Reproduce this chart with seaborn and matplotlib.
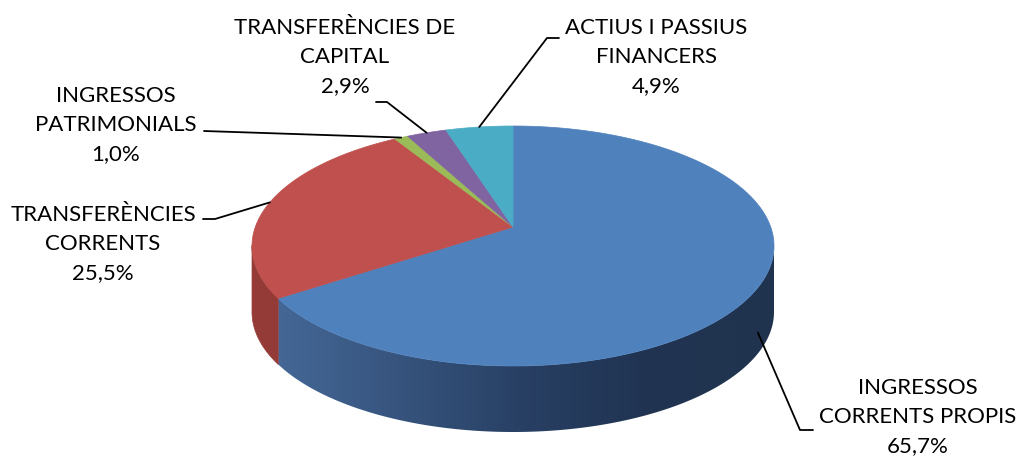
import numpy as np
import matplotlib
matplotlib.use("Agg")
import matplotlib.pyplot as plt
from matplotlib.patches import Polygon
import seaborn as sns

# ---- data ----
categories = ["INGRESSOS\nCORRENTS PROPIS", "TRANSFERÈNCIES\nCORRENTS", "INGRESSOS\nPATRIMONIALS",
              "TRANSFERÈNCIES DE\nCAPITAL", "ACTIUS I PASSIUS\nFINANCERS"]
values = [65.7, 25.5, 1.0, 2.9, 4.9]
pct_labels = ["65,7%", "25,5%", "1,0%", "2,9%", "4,9%"]
hex_colors = ["#4F81BD", "#C0504D", "#9BBB59", "#8064A2", "#4BACC6"]

sns.set_theme(style="white")
plt.rcParams['font.family'] = ['Lato', 'DejaVu Sans']
colors = sns.color_palette(hex_colors)

W, H = 1021, 459
fig = plt.figure(figsize=(W / 100, H / 100), dpi=100)
ax = fig.add_axes([0, 0, 1, 1])
ax.set_xlim(0, W)
ax.set_ylim(H, 0)
ax.axis("off")

# geometry (layout)
cx, cy = 513.0, 246.0      # top ellipse centre
px, py = 513.0, 227.0      # pivot (perspective)
a, b = 261.0, 120.0
depth = 66.0

def boundary(phi_deg):
    phi = np.radians(phi_deg)
    dx, dy = a * np.cos(phi), -b * np.sin(phi)
    ux, uy = px - cx, py - cy
    A = (dx / a) ** 2 + (dy / b) ** 2
    B = 2 * (ux * dx / a ** 2 + uy * dy / b ** 2)
    C = (ux / a) ** 2 + (uy / b) ** 2 - 1
    s = (-B + np.sqrt(B * B - 4 * A * C)) / (2 * A)
    return px + s * dx, py + s * dy

total = sum(values)
angles = [90.0]
for v in values:
    angles.append(angles[-1] - v / total * 360.0)

side_cols = [None, (0.58, 0.23, 0.22), (0.45, 0.55, 0.26), (0.38, 0.30, 0.49), (0.23, 0.51, 0.59)]

# side walls
for i, v in enumerate(values):
    phis = np.linspace(angles[i], angles[i + 1], 800)
    pts = np.array([boundary(p) for p in phis])
    front = pts[pts[:, 1] >= cy - 0.5]
    if len(front) < 2:
        continue
    poly = np.vstack([front, front[::-1] + [0, depth]])
    if i == 0:
        patch = Polygon(poly, closed=True, facecolor="none", edgecolor="none")
        ax.add_patch(patch)
        xs = [260, 300, 520, 650, 780]
        cs = np.array([[70, 105, 152], [66, 100, 146], [40, 64, 100], [32, 51, 81], [33, 51, 78]]) / 255
        gx = np.linspace(250, 780, 600)
        grad = np.stack([np.interp(gx, xs, cs[:, k]) for k in range(3)], axis=-1)[None, :, :]
        im = ax.imshow(grad, extent=(250, 780, cy + b + depth + 5, cy - 5), aspect="auto",
                       interpolation="bilinear", zorder=1)
        im.set_clip_path(patch)
    else:
        ax.add_patch(Polygon(poly, closed=True, facecolor=side_cols[i], edgecolor=side_cols[i],
                             lw=0.5, zorder=1))

# top faces
for i, v in enumerate(values):
    phis = np.linspace(angles[i], angles[i + 1], 400)
    pts = [boundary(p) for p in phis]
    poly = [(px, py)] + pts
    ax.add_patch(Polygon(poly, closed=True, facecolor=colors[i], edgecolor=colors[i], lw=0.5, zorder=2))

ax.set_xlim(0, W)
ax.set_ylim(H, 0)

# labels
label_pos = [(918, 417), (103, 244), (116, 125), (345, 57), (656, 57)]
for i in range(len(values)):
    x, y = label_pos[i]
    ax.text(x, y, categories[i] + "\n" + pct_labels[i], ha="center", va="center",
            fontsize=16, color="black", linespacing=1.55, zorder=3)

# leader lines
mids = [(angles[i] + angles[i + 1]) / 2 for i in range(len(values))]
def anchor(i, drop=0.0):
    x, y = boundary(mids[i])
    return x, y + drop

lines = [
    [(813, 430), (800, 430), anchor(0, 45)],
    [(203, 219), (215, 219), anchor(1)],
    [(204, 131), anchor(2)],
    [(376, 102), (387, 102), anchor(3)],
    [(559, 38), (547, 38), anchor(4)],
]
for ln in lines:
    xs_, ys_ = zip(*ln)
    ax.plot(xs_, ys_, color="black", lw=1.3, zorder=3)

fig.savefig("out.png", dpi=100, facecolor="white")
